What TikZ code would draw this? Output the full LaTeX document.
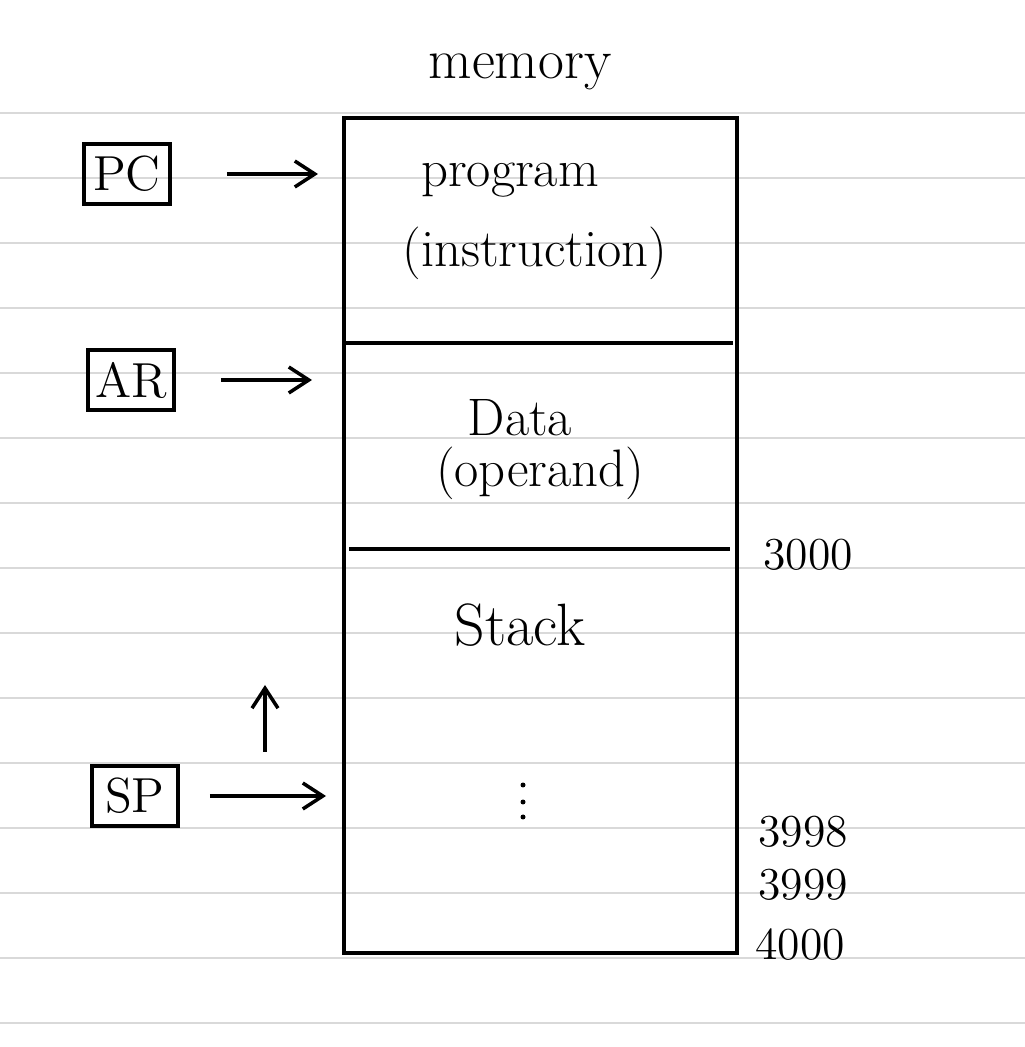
\documentclass[tikz,border=0pt]{standalone}
\usetikzlibrary{arrows.meta}

\begin{document}
\begin{tikzpicture}[
    reg/.style={draw, line width=1pt, minimum width=0.86cm, minimum height=0.6cm, inner sep=1pt, font=\fontsize{14pt}{16pt}\selectfont},
    ptr/.style={line width=1pt, -{Straight Barb[length=2mm,width=2.6mm]}},
    lbl/.style={font=\fontsize{15pt}{18pt}\selectfont},
    addr/.style={font=\fontsize{13pt}{15pt}\selectfont}]
    \useasboundingbox (0,0) rectangle (10.25,10.47);
    % ruled paper
    \foreach \k in {0,...,14}{
        \draw[gray!30, line width=0.6pt] (0,9.34-0.65*\k) -- (10.25,9.34-0.65*\k);
    }
    \node[lbl, font=\fontsize{16pt}{18pt}\selectfont] (title) at (5.20,9.75) {memory};

    % memory block and its parts
    \node[draw, line width=0.9pt, minimum width=3.93cm, minimum height=8.35cm] (mem) at (5.405,5.115) {};
    \draw[line width=0.9pt] (3.44,7.04) -- (7.33,7.04);
    \draw[line width=0.9pt] (3.49,4.98) -- (7.30,4.98);
    \node[lbl] (prog) at (5.10,8.67) {program};
    \node[lbl] (instr) at (5.35,7.94) {(instruction)};
    \node[lbl] (data) at (5.20,6.29) {Data};
    \node[lbl] (oper) at (5.40,5.74) {(operand)};
    \node[lbl, font=\fontsize{17pt}{20pt}\selectfont] (stack) at (5.20,4.22) {Stack};
    % dots between the stack entries
    \foreach \y in {2.62,2.45,2.30}{
        \fill (5.23,\y) circle (0.025);
    }

    % registers pointing into memory
    \node[reg] (pc) at (1.27,8.73) {PC};
    \node[reg] (ar) at (1.31,6.67) {AR};
    \node[reg] (sp) at (1.35,2.51) {SP};
    \coordinate (pcto) at (3.18,8.73);
    \coordinate (arto) at (3.12,6.67);
    \coordinate (spto) at (3.26,2.51);
    \draw[ptr, shorten <=5.5mm] (pc.east) -- (pcto);
    \draw[ptr, shorten <=4.5mm] (ar.east) -- (arto);
    \draw[ptr, shorten <=3.0mm] (sp.east) -- (spto);
    % stack grows upward
    \coordinate (upfrom) at (2.65,2.95);
    \coordinate (upto) at (2.65,3.62);
    \draw[ptr] (upfrom) -- (upto);

    % addresses
    \node[addr] (a3000) at (8.08,4.92) {3000};
    \node[addr] (a3998) at (8.03,2.15) {3998};
    \node[addr] (a3999) at (8.03,1.62) {3999};
    \node[addr] (a4000) at (8.00,1.02) {4000};
\end{tikzpicture}
\end{document}
